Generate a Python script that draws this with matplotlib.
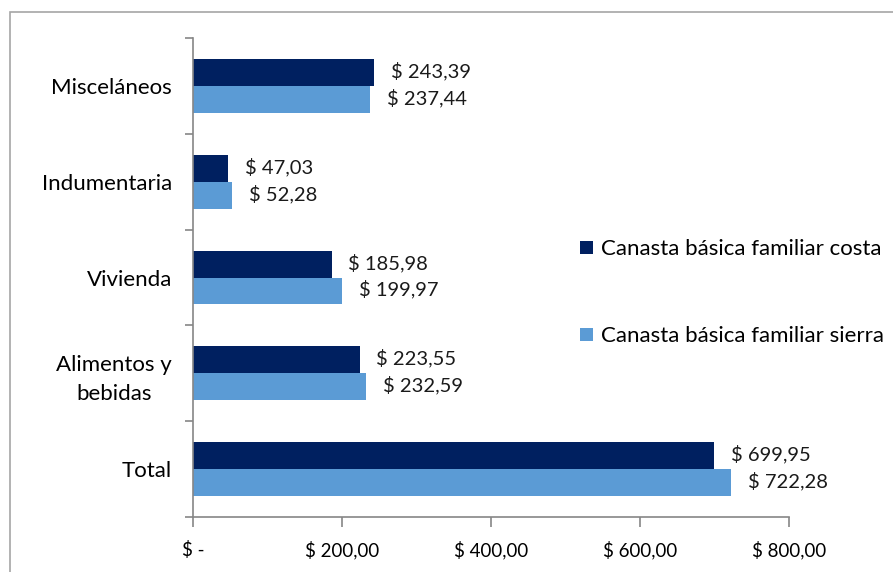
import matplotlib
matplotlib.use("Agg")
import matplotlib.pyplot as plt
import numpy as np
from matplotlib.patches import Rectangle
from matplotlib.ticker import FixedLocator

# data (bottom to top)
categories = ["Total", "Alimentos y\nbebidas", "Vivienda", "Indumentaria", "Misceláneos"]
costa = [699.95, 223.55, 185.98, 47.03, 243.39]
sierra = [722.28, 232.59, 199.97, 52.28, 237.44]
series_names = ["Canasta básica familiar costa", "Canasta básica familiar sierra"]
xticks = [0, 200, 400, 600, 800]
xtick_labels = ["$ -", "$ 200,00", "$ 400,00", "$ 600,00", "$ 800,00"]

plt.rcParams["font.family"] = ["Lato", "DejaVu Sans"]

dark = "#002060"
light = "#5b9bd5"
gray = "#868686"

fig = plt.figure(figsize=(8.93, 5.72), dpi=100)
# outer chart border
fig.patches.append(Rectangle((10 / 893, -0.1), 1.2, 1 - 12 / 572 + 0.1,
                             transform=fig.transFigure, fill=False,
                             edgecolor="#a6a6a6", linewidth=1.2))

ax = fig.add_axes([193 / 893, 1 - 517 / 572, (789 - 193) / 893, (517 - 38) / 572])

y = np.arange(len(categories))
h = 0.28
b1 = ax.barh(y + h / 2, costa, height=h, color=dark, label=series_names[0])
b2 = ax.barh(y - h / 2, sierra, height=h, color=light, label=series_names[1])

def fmt(v):
    return "$ " + f"{v:.2f}".replace(".", ",")

for bars, vals in ((b1, costa), (b2, sierra)):
    for bar, v in zip(bars, vals):
        ax.annotate(fmt(v), (v, bar.get_y() + bar.get_height() / 2),
                    xytext=(12, 1), textcoords="offset points",
                    va="center", ha="left", fontsize=14.5, color="#1a1a1a")

ax.set_xlim(0, 800)
ax.set_ylim(-0.5, len(categories) - 0.5)
ax.set_xticks(xticks)
ax.set_xticklabels(xtick_labels, fontsize=13.5)
ax.set_yticks(y)
ax.set_yticklabels(categories, fontsize=16, multialignment="center",
                   linespacing=1.55)
ax.yaxis.set_minor_locator(FixedLocator(np.arange(-0.5, len(categories), 1.0)))
ax.tick_params(axis="y", which="major", length=0, pad=15)
ax.tick_params(axis="y", which="minor", length=6, color=gray, width=1.2)
ax.tick_params(axis="x", length=7, color=gray, width=1.2, pad=10)

for s in ("top", "right"):
    ax.spines[s].set_visible(False)
for s in ("left", "bottom"):
    ax.spines[s].set_color(gray)
    ax.spines[s].set_linewidth(1.2)

ax.legend(loc="center left", bbox_to_anchor=(0.635, 0.468), frameon=False,
          fontsize=16, handlelength=0.55, handleheight=0.55, handletextpad=0.4,
          labelspacing=3.0, borderaxespad=0)

fig.savefig("out.png", dpi=100)
